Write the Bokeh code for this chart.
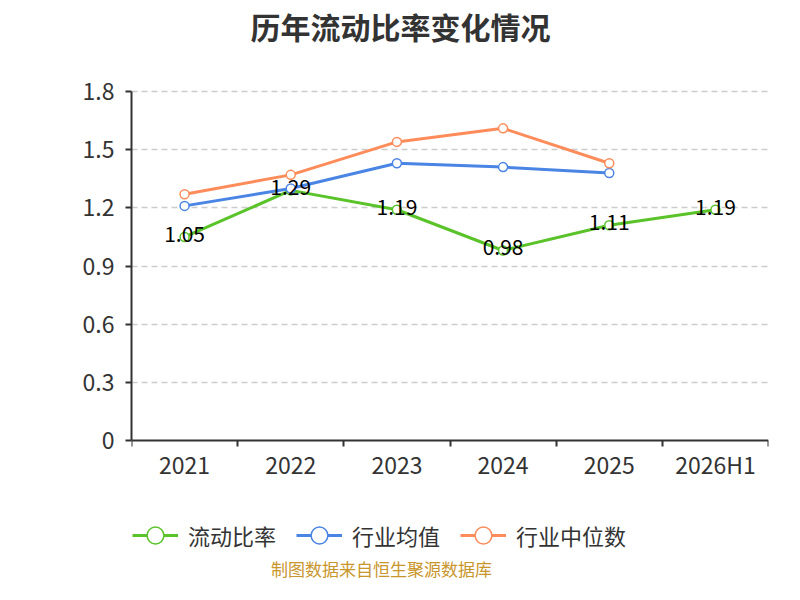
from bokeh.plotting import figure
from bokeh.models import Range1d, FixedTicker, Legend, LegendItem, Label, ColumnDataSource
from bokeh.embed import file_html
from bokeh.resources import INLINE
from bokeh.core.properties import value

categories = ["2021", "2022", "2023", "2024", "2025", "2026H1"]
current_ratio = [1.05, 1.29, 1.19, 0.98, 1.11, 1.19]
industry_mean = [1.21, 1.30, 1.43, 1.41, 1.38]
industry_median = [1.27, 1.37, 1.54, 1.61, 1.43]
y_ticks = [0, 0.3, 0.6, 0.9, 1.2, 1.5, 1.8]

FONT = "Noto Sans CJK SC"
GREEN = "#5ac32a"
BLUE = "#4a84e4"
ORANGE = "#fd8c5a"

xs = [i + 0.5 for i in range(len(categories))]

# frame spans the full height (0..584 px); the value axis occupies 91..440 px
PX_PER_UNIT = 349 / 1.8
Y_MAX = 440 / PX_PER_UNIT
Y_MIN = -(584 - 440) / PX_PER_UNIT

p = figure(width=784, height=584, output_backend="svg", toolbar_location=None,
           x_range=Range1d(0, len(categories)), y_range=Range1d(Y_MIN, Y_MAX),
           min_border_left=131, min_border_right=16, min_border_top=0, min_border_bottom=0)
p.outline_line_color = None
p.title = None

# axes
p.xaxis.fixed_location = 0
p.xaxis.ticker = FixedTicker(ticks=xs, minor_ticks=list(range(len(categories) + 1)))
p.xaxis.major_label_overrides = {x: c for x, c in zip(xs, categories)}
p.xaxis.major_tick_line_color = None
p.xaxis.minor_tick_in = 0
p.xaxis.minor_tick_out = 6
p.xaxis.minor_tick_line_color = "#333333"
p.xaxis.minor_tick_line_width = 2
p.xaxis.axis_line_color = "#333333"
p.xaxis.axis_line_width = 2
p.xaxis.major_label_text_font = FONT
p.xaxis.major_label_text_font_size = "23px"
p.xaxis.major_label_text_color = "#333333"
p.xaxis.major_label_standoff = 0

p.yaxis.bounds = (0, 1.8)
p.yaxis.ticker = FixedTicker(ticks=y_ticks, minor_ticks=[])
p.yaxis.major_label_overrides = {t: ("0" if t == 0 else f"{t:.1f}") for t in y_ticks}
p.yaxis.major_tick_in = 0
p.yaxis.major_tick_out = 6
p.yaxis.major_tick_line_color = "#333333"
p.yaxis.major_tick_line_width = 2
p.yaxis.axis_line_color = "#333333"
p.yaxis.axis_line_width = 2
p.yaxis.major_label_text_font = FONT
p.yaxis.major_label_text_font_size = "23px"
p.yaxis.major_label_text_color = "#333333"
p.yaxis.major_label_standoff = 11

p.xgrid.grid_line_color = None
p.ygrid.ticker = FixedTicker(ticks=y_ticks[1:])
p.ygrid.grid_line_color = "#cccccc"
p.ygrid.grid_line_dash = "6 4"
p.ygrid.grid_line_width = 1.5

series = [
    ("流动比率", current_ratio, GREEN),
    ("行业均值", industry_mean, BLUE),
    ("行业中位数", industry_median, ORANGE),
]
items = []
for name, vals, color in series:
    src = ColumnDataSource(dict(x=xs[:len(vals)], y=vals))
    ln = p.line("x", "y", source=src, line_color=color, line_width=3)
    sc = p.scatter("x", "y", source=src, size=9, fill_color="white", line_color=color, line_width=1.5)
    items.append(LegendItem(label=name, renderers=[ln, sc]))

# data labels for current ratio
lab_src = ColumnDataSource(dict(x=xs, y=current_ratio, t=[f"{v:.2f}" for v in current_ratio]))
p.text("x", "y", text="t", source=lab_src, text_align="center", text_baseline="middle",
       text_font=value(FONT), text_font_size="21px", text_color="#000000", y_offset=-3)

legend = Legend(items=items, orientation="horizontal", location=(1, 28),
                glyph_width=46, glyph_height=42, label_text_font=FONT, label_text_font_size="22px",
                label_text_color="#333333", label_standoff=10, spacing=20, padding=0, margin=0,
                border_line_color=None, background_fill_alpha=0)
p.add_layout(legend, "center")

title = Label(x=269, y=559, x_units="screen", y_units="screen", text="历年流动比率变化情况",
              text_font=FONT, text_font_size="30px", text_font_style="bold", text_color="#333333",
              text_align="center", text_baseline="middle")
p.add_layout(title)

source = Label(x=250, y=16, x_units="screen", y_units="screen", text="制图数据来自恒生聚源数据库",
               text_font=FONT, text_font_size="17px", text_color="#c9962c",
               text_align="center", text_baseline="middle")
p.add_layout(source)

open("out.html", "w").write(file_html(p, INLINE))
